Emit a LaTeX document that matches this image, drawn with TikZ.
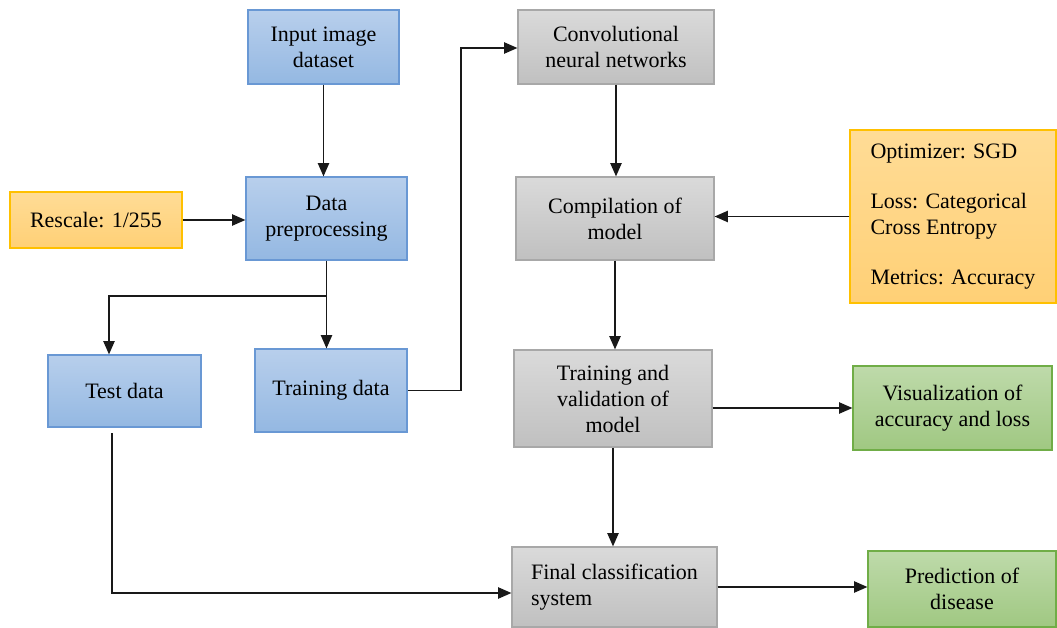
\documentclass[tikz,border=0pt]{standalone}
\usepackage{fontspec}
\setmainfont{Liberation Serif}
\usetikzlibrary{arrows.meta}
\definecolor{bluetop}{RGB}{184,207,236}
\definecolor{bluebot}{RGB}{148,184,226}
\definecolor{blueline}{RGB}{105,152,212}
\definecolor{orgtop}{RGB}{255,220,150}
\definecolor{orgbot}{RGB}{255,208,118}
\definecolor{orgline}{RGB}{255,192,0}
\definecolor{graytop}{RGB}{218,218,218}
\definecolor{graybot}{RGB}{192,192,192}
\definecolor{grayline}{RGB}{168,168,168}
\definecolor{grntop}{RGB}{190,218,170}
\definecolor{grnbot}{RGB}{160,200,130}
\definecolor{grnline}{RGB}{112,173,71}
\tikzset{
  basebox/.style={rectangle, draw, line width=0.9pt, align=center, inner sep=2pt,
    font=\rmfamily\fontsize{16.5pt}{19.5pt}\selectfont, text=black},
  bluebox/.style={basebox, draw=blueline, top color=bluetop, bottom color=bluebot},
  orgbox/.style={basebox, draw=orgline, top color=orgtop, bottom color=orgbot},
  graybox/.style={basebox, draw=grayline, top color=graytop, bottom color=graybot},
  grnbox/.style={basebox, draw=grnline, top color=grntop, bottom color=grnbot},
  conn/.style={draw=black!90, line width=1pt},
  arr/.style={conn, -{Triangle[length=10pt,width=8.5pt]}}
}
\begin{document}
\begin{tikzpicture}[x=0.75pt,y=-0.75pt]
\useasboundingbox (0,0) rectangle (1057,628);
% nodes
\node[bluebox, minimum width=151*0.75pt, minimum height=74*0.75pt] (input) at (323.5,47) {Input image\\dataset};
\node[bluebox, minimum width=161*0.75pt, minimum height=83*0.75pt] (prep) at (326.5,218.5) {Data\\preprocessing};
\node[orgbox, minimum width=172*0.75pt, minimum height=56*0.75pt] (rescale) at (96,220) {Rescale: 1/255};
\node[bluebox, minimum width=153*0.75pt, minimum height=72*0.75pt] (test) at (124.5,391) {Test data};
\node[bluebox, minimum width=152*0.75pt, minimum height=83*0.75pt] (train) at (331,390.5) {Training data};
\node[graybox, minimum width=196*0.75pt, minimum height=74*0.75pt] (cnn) at (616,47) {Convolutional\\neural networks};
\node[graybox, minimum width=198*0.75pt, minimum height=83*0.75pt] (comp) at (615,218.5) {Compilation of\\model};
\node[orgbox, minimum width=206*0.75pt, minimum height=173*0.75pt, align=left] (opt) at (953,216.5)
  {Optimizer: SGD\\[18pt]Loss: Categorical\\Cross Entropy\\[18pt]Metrics: Accuracy};
\node[graybox, minimum width=198*0.75pt, minimum height=97*0.75pt] (tv) at (613,398.5) {Training and\\validation of\\model};
\node[grnbox, minimum width=199*0.75pt, minimum height=84*0.75pt] (vis) at (952.5,408) {Visualization of\\accuracy and loss};
\node[graybox, minimum width=205*0.75pt, minimum height=80*0.75pt, align=left] (final) at (614.5,587) {Final classification\\system};
\node[grnbox, minimum width=188*0.75pt, minimum height=76*0.75pt] (pred) at (962,589) {Prediction of\\disease};
% helper coordinates
\coordinate (split) at (326.5,296);
\coordinate (tl) at (109,296);
\coordinate (cc) at (461,48);
\coordinate (tb) at (112,433);
\coordinate (bl) at (112,593);
% connectors
\draw[arr] (input.south) -- (input.south |- prep.north);
\draw[arr] (rescale.east) -- (rescale.east -| prep.west);
\draw[conn] (prep.south) -- (split);
\draw[arr] (split) -- (split |- train.north);
\draw[arr] (split) -- (tl) -- (tl |- test.north);
\draw[arr] (train.east) -| (cc) -- (cc -| cnn.west);
\draw[arr] (cnn.south) -- (cnn.south |- comp.north);
\draw[arr] (opt.west) -- (opt.west -| comp.east);
\draw[arr] (comp.south) -- (comp.south |- tv.north);
\draw[arr] (vis.west -| tv.east) -- (vis.west);
\draw[arr] (tv.south) -- (tv.south |- final.north);
\draw[arr] (tb) -- (bl) -- (bl -| final.west);
\draw[arr] (final.east) -- (final.east -| pred.west);
\end{tikzpicture}
\end{document}
